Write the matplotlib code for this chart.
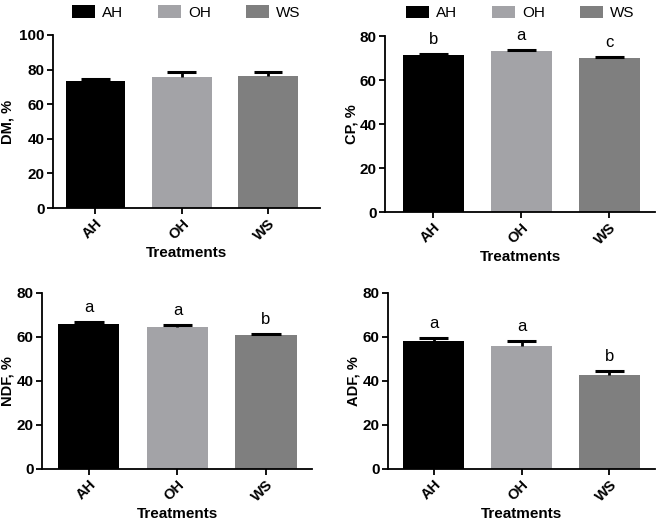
import numpy as np
import matplotlib
matplotlib.use('Agg')
import matplotlib.pyplot as plt
from matplotlib.patches import Patch

plt.rcParams['font.family'] = ['Liberation Sans', 'DejaVu Sans']

treatments = ['AH', 'OH', 'WS']
colors = ['#000000', '#a3a3a7', '#7f7f7f']

dm_mean = [73.4, 75.9, 76.3]
dm_err = [1.0, 2.5, 2.1]

cp_mean = [71.4, 73.2, 70.0]
cp_err = [0.4, 0.5, 0.4]
cp_letters = ['b', 'a', 'c']

ndf_mean = [66.1, 64.5, 60.8]
ndf_err = [0.8, 1.0, 0.5]
ndf_letters = ['a', 'a', 'b']

adf_mean = [58.2, 55.9, 42.9]
adf_err = [1.2, 2.4, 1.6]
adf_letters = ['a', 'a', 'b']

W, H = 660, 524
fig = plt.figure(figsize=(W / 100, H / 100), dpi=100)


def px_axes(x0, x1, ytop, ybot):
    return fig.add_axes([x0 / W, 1 - ybot / H, (x1 - x0) / W, (ybot - ytop) / H])


def panel(ax, mean, err, ylabel, ymax, xlim, labx, letters=None):
    x = np.arange(len(treatments))
    mean = np.array(mean)
    err = np.array(err)
    ax.bar(x, mean, width=0.69, color=colors, edgecolor='none', zorder=2)
    # upper error bars only, GraphPad style
    ax.vlines(x, mean, mean + err, color='black', lw=2, zorder=3)
    ax.hlines(mean + err, x - 0.165, x + 0.165, color='black', lw=2.2, zorder=3)
    ax.set_ylim(0, ymax)
    ax.set_xlim(*xlim)
    ax.set_yticks(np.arange(0, ymax + 1, 20))
    ax.set_xticks(x)
    ax.set_xticklabels(treatments, rotation=45, ha='right', rotation_mode='anchor',
                       fontweight='bold', fontsize=10.5)
    for lab in ax.get_yticklabels():
        lab.set_fontweight('bold')
        lab.set_fontsize(11)
    ax.spines['top'].set_visible(False)
    ax.spines['right'].set_visible(False)
    ax.spines['left'].set_linewidth(1.3)
    ax.spines['bottom'].set_linewidth(1.3)
    ax.tick_params(width=1.3, length=4, pad=2)
    ax.set_ylabel(ylabel, fontweight='bold', fontsize=10.5)
    ax.yaxis.set_label_coords(labx, 0.5)
    ax.set_xlabel('Treatments', fontweight='bold', fontsize=11, labelpad=2)
    if letters:
        for xi, top, t in zip(x, mean + err, letters):
            ax.annotate(t, (xi, top), xytext=(0, 5), textcoords='offset points',
                        ha='center', va='bottom', fontsize=12)


def legend(ax):
    handles = [Patch(facecolor=c, edgecolor='none', label=t) for c, t in zip(colors, treatments)]
    ax.legend(handles=handles, loc='center', bbox_to_anchor=(0.5, 1.13), ncol=3,
              frameon=False, fontsize=11, handlelength=1.5, handleheight=0.9,
              columnspacing=2.3, handletextpad=0.45)


ax1 = px_axes(53, 320, 35, 208)
panel(ax1, dm_mean, dm_err, 'DM, %', 100, (-0.49, 2.6), -0.146)
legend(ax1)

ax2 = px_axes(385, 655, 36, 212)
panel(ax2, cp_mean, cp_err, 'CP, %', 80, (-0.55, 2.52), -0.097, cp_letters)
legend(ax2)

ax3 = px_axes(42, 312, 293, 469)
panel(ax3, ndf_mean, ndf_err, 'NDF, %', 80, (-0.53, 2.52), -0.1, ndf_letters)

ax4 = px_axes(388, 655, 293, 469)
panel(ax4, adf_mean, adf_err, 'ADF, %', 80, (-0.52, 2.52), -0.103, adf_letters)

fig.savefig('out.png', dpi=100)
